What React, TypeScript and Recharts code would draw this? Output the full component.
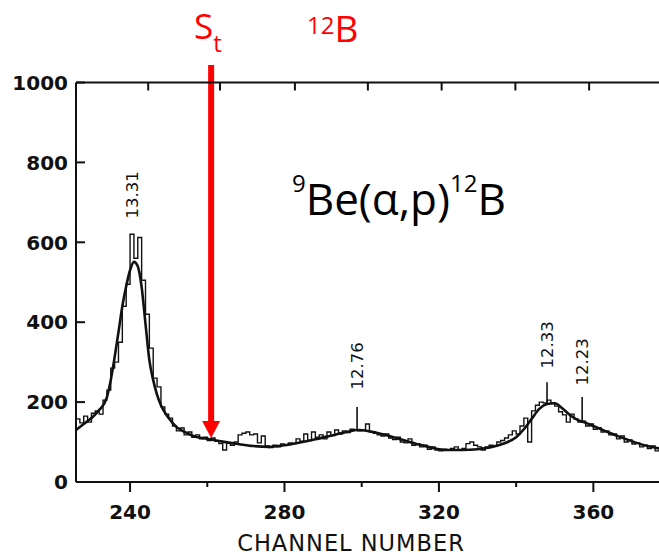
import { ComposedChart, Line, XAxis, YAxis, ReferenceLine, ReferenceDot } from 'recharts';

// counts per channel, first bin starts at channel 226
const FIRST_CHANNEL = 226;
const HIST_COUNTS = [
  158, 148, 165, 150, 172, 178, 170, 205, 230, 285, 300, 350, 440, 495, 620, 560, 612, 505, 420, 335,
  260, 238, 188, 170, 160, 140, 128, 135, 118, 125, 112, 118, 108, 112, 104, 110, 102, 96, 80, 98,
  92, 100, 118, 122, 125, 118, 120, 98, 115, 90, 86, 92, 88, 95, 92, 98, 96, 108, 102, 120,
  104, 125, 112, 118, 108, 125, 116, 130, 120, 128, 124, 132, 130, 128, 130, 145, 125, 122, 118, 115,
  120, 110, 106, 112, 100, 98, 108, 92, 96, 88, 92, 82, 88, 80, 78, 82, 80, 84, 88, 80,
  84, 96, 100, 92, 88, 80, 88, 92, 90, 100, 104, 110, 118, 128, 120, 140, 160, 100, 178, 192,
  200, 198, 205, 198, 190, 176, 168, 150, 170, 158, 150, 152, 140, 145, 132, 136, 125, 128, 118, 120,
  108, 115, 100, 105, 95, 98, 88, 92, 84, 90, 78, 82,
];

// fitted line shape
const FIT_CHANNELS = [
  226, 228, 230, 232, 234, 235, 236, 237, 238, 239, 240, 241, 242, 243, 244, 245, 246, 247, 248, 250,
  252, 254, 257, 260, 264, 268, 272, 276, 280, 284, 288, 292, 296, 299, 302, 306, 310, 314, 318, 322,
  326, 330, 334, 337, 340, 342, 344, 346, 348, 350, 352, 354, 356, 358, 360, 363, 366, 370, 374, 377,
];
const FIT_COUNTS = [
  130, 145, 160, 180, 212, 255, 312, 375, 440, 490, 530, 551, 540, 488, 396, 305, 255, 218, 192, 160,
  138, 126, 113, 108, 101, 95, 90, 88, 92, 99, 107, 116, 125, 130, 127, 118, 107, 96, 86, 80,
  80, 82, 88, 97, 112, 132, 158, 183, 195, 197, 184, 167, 155, 148, 140, 128, 116, 102, 90, 84,
];

const X_TICKS = [240, 260, 280, 300, 320, 340, 360];
const Y_TICKS = [0, 200, 400, 600, 800, 1000];
const TOP_TICKS = [244.7, 263.3, 282.7, 301.6, 320.7, 339.8, 358.9];

// level labels (MeV) above the peaks
const PEAK_LABELS = ['13.31', '12.76', '12.33', '12.23'];
const PEAK_CH = [240.5, 298.8, 348.0, 357.1];
const PEAK_TEXT_Y = [719, 291, 343, 301];
const PEAK_TICK_LO = [null, 130, 198, 150];
const PEAK_TICK_HI = [null, 188, 250, 213];

// S_t threshold arrow
const ARROW_CH = 261;
const ARROW_TOP = 1044;
const ARROW_TIP = 110;

const histData = HIST_COUNTS.map((c, i) => ({ ch: FIRST_CHANNEL + i, count: c }));
const fitData = FIT_CHANNELS.map((ch, i) => ({ ch, count: FIT_COUNTS[i] }));

const INK = '#111';
const RED = '#ff0000';
const TICK_FONT = {
  fontFamily: '"DejaVu Sans", sans-serif',
  fontSize: 20,
  fontWeight: 700,
  fill: INK,
};

const BottomTick = (props: any) => {
  const { x, y, payload } = props;
  const major = payload.value % 40 === 0;
  return (
    <g>
      <line x1={x} x2={x} y1={y} y2={y + (major ? 10 : 5)} stroke={INK} strokeWidth={2} />
      {major && (
        <text x={x} y={y + 37} textAnchor="middle" {...TICK_FONT}>
          {payload.value}
        </text>
      )}
    </g>
  );
};

const LeftTick = (props: any) => {
  const { x, y, payload } = props;
  return (
    <g>
      <line x1={x} x2={x + 9} y1={y} y2={y} stroke={INK} strokeWidth={2} />
      <text x={x - 8} y={y} dy="0.36em" textAnchor="end" {...TICK_FONT}>
        {payload.value}
      </text>
    </g>
  );
};

const TopTick = (props: any) => {
  const { x, y } = props;
  return <line x1={x} x2={x} y1={y} y2={y + 8} stroke={INK} strokeWidth={2} />;
};

const Arrow = (p: any) => {
  const { x1, y1, x2, y2 } = p;
  const head = 17;
  return (
    <g>
      <line x1={x1} y1={y1} x2={x2} y2={y2 - head + 2} stroke={RED} strokeWidth={6} />
      <polygon points={`${x2 - 9},${y2 - head} ${x2 + 9},${y2 - head} ${x2},${y2}`} fill={RED} />
    </g>
  );
};

const peakText = (label: string) => (p: any) => (
  <text
    x={p.cx}
    y={p.cy}
    dy="0.36em"
    textAnchor="middle"
    transform={`rotate(-90 ${p.cx} ${p.cy})`}
    fontFamily='"DejaVu Sans", sans-serif'
    fontSize={16.5}
    fill={INK}
  >
    {label}
  </text>
);

export default function App() {
  return (
    <div style={{ position: 'absolute', left: 0, top: 0, width: 659, height: 558, background: '#fff' }}>
      <ComposedChart
        width={659}
        height={558}
        margin={{ top: 62, right: 0, left: 0, bottom: 0 }}
      >
        <XAxis
          xAxisId="bottom"
          dataKey="ch"
          type="number"
          domain={[226, 377]}
          allowDataOverflow
          ticks={X_TICKS}
          interval={0}
          height={76}
          tickSize={0}
          tickMargin={0}
          tickLine={false}
          tick={BottomTick}
          axisLine={{ stroke: INK, strokeWidth: 2 }}
        />
        <XAxis
          xAxisId="top"
          orientation="top"
          dataKey="ch"
          type="number"
          domain={[226, 377]}
          allowDataOverflow
          ticks={TOP_TICKS}
          interval={0}
          height={20.5}
          tickSize={0}
          tickMargin={0}
          tickLine={false}
          tick={TopTick}
          axisLine={{ stroke: INK, strokeWidth: 2 }}
        />
        <YAxis
          type="number"
          domain={[0, 1000]}
          ticks={Y_TICKS}
          interval={0}
          width={76}
          tickSize={0}
          tickMargin={0}
          tickLine={false}
          tick={LeftTick}
          axisLine={{ stroke: INK, strokeWidth: 2 }}
        />
        <Line
          xAxisId="bottom"
          data={histData}
          dataKey="count"
          type="stepAfter"
          stroke={INK}
          strokeWidth={1.4}
          dot={false}
          isAnimationActive={false}
        />
        <Line
          xAxisId="bottom"
          data={fitData}
          dataKey="count"
          type="monotone"
          stroke={INK}
          strokeWidth={2.6}
          dot={false}
          isAnimationActive={false}
        />
        {PEAK_LABELS.map((label, i) =>
          PEAK_TICK_LO[i] != null ? (
            <ReferenceLine
              key={`t${i}`}
              xAxisId="bottom"
              segment={[
                { x: PEAK_CH[i], y: PEAK_TICK_LO[i] as number },
                { x: PEAK_CH[i], y: PEAK_TICK_HI[i] as number },
              ]}
              stroke={INK}
              strokeWidth={1.6}
            />
          ) : null,
        )}
        {PEAK_LABELS.map((label, i) => (
          <ReferenceDot
            key={`l${i}`}
            xAxisId="bottom"
            x={PEAK_CH[i]}
            y={PEAK_TEXT_Y[i]}
            r={0}
            ifOverflow="visible"
            shape={peakText(label)}
          />
        ))}
        <ReferenceLine
          xAxisId="bottom"
          segment={[
            { x: ARROW_CH, y: ARROW_TOP },
            { x: ARROW_CH, y: ARROW_TIP },
          ]}
          ifOverflow="visible"
          shape={Arrow}
        />
      </ComposedChart>
      <svg
        width={659}
        height={558}
        style={{ position: 'absolute', left: 0, top: 0, pointerEvents: 'none' }}
      >
        <text x={194} y={39} fill={RED} fontFamily='"Open Sans", sans-serif' fontSize={35}>
          S
          <tspan fontSize={24} dy={13}>
            t
          </tspan>
        </text>
        <text x={307} y={42} fill={RED} fontFamily='"Open Sans", sans-serif' fontSize={37}>
          <tspan fontSize={24} dy={-8}>
            12
          </tspan>
          <tspan dy={8}>B</tspan>
        </text>
        <text x={292} y={215} fill="#000" fontFamily='"Open Sans", sans-serif' fontSize={44}>
          <tspan fontSize={24} dy={-23}>
            9
          </tspan>
          <tspan dy={23}>Be(α,p)</tspan>
          <tspan fontSize={24} dy={-23}>
            12
          </tspan>
          <tspan dy={23}>B</tspan>
        </text>
        <text
          x={351}
          y={551}
          textAnchor="middle"
          fill={INK}
          fontFamily='"DejaVu Sans", sans-serif'
          fontSize={22.5}
          letterSpacing={1}
        >
          CHANNEL NUMBER
        </text>
      </svg>
    </div>
  );
}
